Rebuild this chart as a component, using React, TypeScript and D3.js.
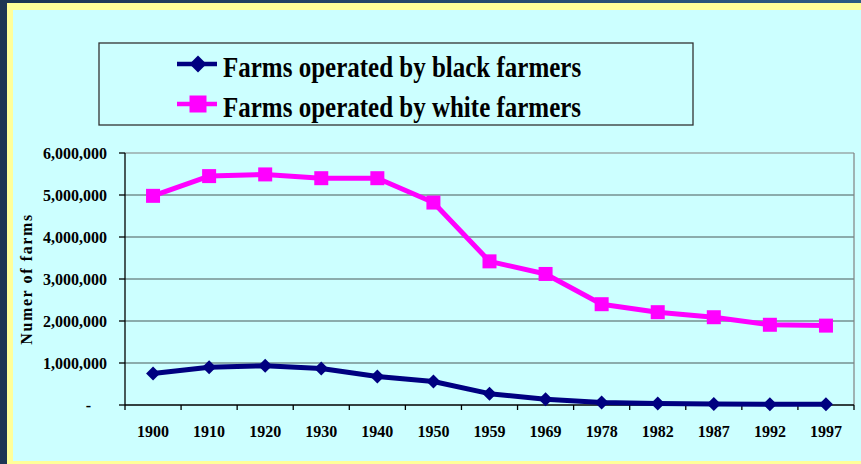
import * as d3 from "d3"

const years = ["1900", "1910", "1920", "1930", "1940", "1950", "1959", "1969", "1978", "1982", "1987", "1992", "1997"]
const blackFarms = [750000, 900000, 935000, 870000, 680000, 560000, 270000, 135000, 62000, 36000, 24000, 19000, 18500]
const whiteFarms = [4980000, 5450000, 5490000, 5400000, 5400000, 4820000, 3420000, 3120000, 2400000, 2210000, 2090000, 1910000, 1890000]
const yTicks = [0, 1000000, 2000000, 3000000, 4000000, 5000000, 6000000]
const seriesNames = ["Farms operated by black farmers", "Farms operated by white farmers"]

const WIDTH = 861
const HEIGHT = 464
const PLOT = { left: 125, right: 854, top: 153, bottom: 405 }
const FONT = "'Liberation Serif', 'Times New Roman', serif"
const NAVY = "#000080"
const MAGENTA = "#ff00ff"

const diamond = (r: number) => `M0,${-r}L${r},0L0,${r}L${-r},0Z`
const square = (s: number) => `M${-s / 2},${-s / 2}h${s}v${s}h${-s}Z`

export default function App() {
  const x = d3.scaleBand().domain(years).range([PLOT.left, PLOT.right])
  const y = d3.scaleLinear().domain([0, 6000000]).range([PLOT.bottom, PLOT.top])
  const cx = (yr: string) => x(yr)! + x.bandwidth() / 2
  const fmt = d3.format(",")

  const line = d3
    .line<number>()
    .x((_, i) => cx(years[i]))
    .y((d) => y(d))

  const series = [
    { name: seriesNames[0], values: blackFarms, color: NAVY, marker: diamond(7) },
    { name: seriesNames[1], values: whiteFarms, color: MAGENTA, marker: square(14) },
  ]
  const legendMarkers = [diamond(8.5), square(17)]

  return (
    <div style={{ position: "absolute", left: 0, top: 0 }}>
      <svg width={WIDTH} height={HEIGHT} style={{ display: "block" }}>
        <defs>
          <linearGradient id="frame" x1="0" x2="1" y1="0" y2="0">
            <stop offset="0" stopColor="#1d3553" />
            <stop offset="1" stopColor="#2c5b84" />
          </linearGradient>
        </defs>
        <rect width={WIDTH} height={HEIGHT} fill="url(#frame)" />
        <rect x={7} y={3} width={WIDTH - 7} height={HEIGHT - 3} fill="#ffff99" />
        <rect x={13} y={10} width={WIDTH - 13} height={451} fill="#ccffff" />

        {/* gridlines */}
        {yTicks.slice(1, -1).map((t) => (
          <line key={t} x1={PLOT.left} x2={PLOT.right} y1={y(t)} y2={y(t)} stroke="#4a5a5a" strokeWidth={1.2} />
        ))}
        <line x1={PLOT.left} x2={PLOT.right} y1={y(6000000)} y2={y(6000000)} stroke="#808080" strokeWidth={1.2} />
        <line x1={PLOT.right} x2={PLOT.right} y1={PLOT.top} y2={PLOT.bottom} stroke="#808080" strokeWidth={1.2} />

        {/* axes */}
        <line x1={PLOT.left} x2={PLOT.left} y1={PLOT.top} y2={PLOT.bottom} stroke="#000" strokeWidth={1.3} />
        <line x1={PLOT.left} x2={PLOT.right} y1={PLOT.bottom} y2={PLOT.bottom} stroke="#000" strokeWidth={1.3} />
        {yTicks.map((t) => (
          <g key={t}>
            <line x1={PLOT.left - 6} x2={PLOT.left} y1={y(t)} y2={y(t)} stroke="#000" strokeWidth={1.3} />
            <text
              x={t === 0 ? 91 : 107}
              y={y(t) + 5.5}
              textAnchor="end"
              fontFamily={FONT}
              fontWeight="bold"
              fontSize={16}
            >
              {t === 0 ? "-" : fmt(t)}
            </text>
          </g>
        ))}
        {years.map((yr, i) => (
          <line
            key={yr}
            x1={x(yr)!}
            x2={x(yr)!}
            y1={PLOT.bottom}
            y2={PLOT.bottom + 5}
            stroke="#000"
            strokeWidth={1.3}
          />
        ))}
        <line x1={PLOT.right} x2={PLOT.right} y1={PLOT.bottom} y2={PLOT.bottom + 5} stroke="#000" strokeWidth={1.3} />
        {years.map((yr) => (
          <text
            key={yr}
            x={cx(yr)}
            y={437}
            textAnchor="middle"
            fontFamily={FONT}
            fontWeight="bold"
            fontSize={16}
          >
            {yr}
          </text>
        ))}
        <text
          transform="translate(32,279) rotate(-90)"
          textAnchor="middle"
          fontFamily={FONT}
          fontWeight="bold"
          fontSize={16}
          letterSpacing={1.6}
        >
          Numer of farms
        </text>

        {/* series */}
        {series.map((s) => (
          <g key={s.name}>
            <path d={line(s.values)!} fill="none" stroke={s.color} strokeWidth={5} strokeLinejoin="round" />
            {s.values.map((v, i) => (
              <path key={i} d={s.marker} transform={`translate(${cx(years[i])},${y(v)})`} fill={s.color} />
            ))}
          </g>
        ))}

        {/* legend */}
        <rect x={99} y={43} width={594} height={82} fill="none" stroke="#333" strokeWidth={1.3} />
        {series.map((s, i) => {
          const ly = 64 + i * 40
          return (
            <g key={s.name}>
              <line x1={177} x2={217} y1={ly} y2={ly} stroke={s.color} strokeWidth={4.5} />
              <path d={legendMarkers[i]} transform={`translate(198,${ly})`} fill={s.color} />
              <text
                transform={`translate(223,${77 + i * 39.5}) scale(1,1.22)`}
                fontFamily={FONT}
                fontWeight="bold"
                fontSize={25}
              >
                {s.name}
              </text>
            </g>
          )
        })}
      </svg>
    </div>
  )
}
